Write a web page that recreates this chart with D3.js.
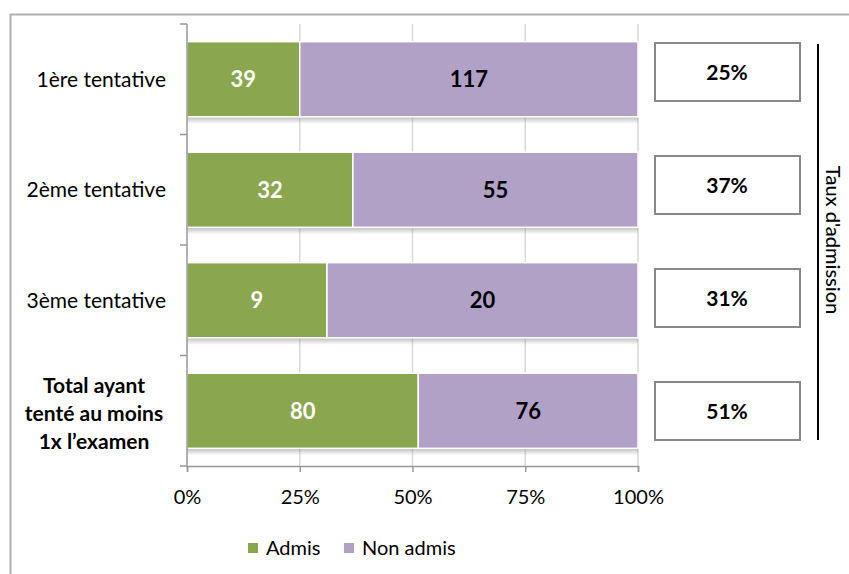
<!DOCTYPE html>
<html><head><meta charset="utf-8">
<script src="https://cdn.jsdelivr.net/npm/d3@7"></script>
<style>body{margin:0;background:#fff;} svg{display:block;font-family:Lato, "Open Sans", sans-serif;}</style>
</head><body><svg id="c" width="849" height="574"></svg>
<script>
const categories = ["1ère tentative", "2ème tentative", "3ème tentative", "Total ayant tenté au moins 1x l’examen"];
const categoryLines = [["1ère tentative"], ["2ème tentative"], ["3ème tentative"], ["Total ayant", "tenté au moins", "1x l’examen"]];
const admis = [39, 32, 9, 80];
const nonAdmis = [117, 55, 20, 76];
const tauxLabels = ["25%", "37%", "31%", "51%"];
const xTicks = [0, 0.25, 0.5, 0.75, 1];
const seriesNames = ["Admis", "Non admis"];
const colors = ["#8AA64F", "#B2A1C7"];

const svg = d3.select("#c");
// outer frame
svg.append("path").attr("d", "M10.5,574 V14.5 H849").attr("fill", "none").attr("stroke", "#b0b0b0").attr("stroke-width", 2);

const x = d3.scaleLinear().domain([0, 1]).range([187, 638]);
const y = d3.scaleBand().domain(categories).range([24, 466]).paddingInner(0.32).paddingOuter(0.16);
const yb = d3.scaleBand().domain(categories).range([24, 466]);

const defs = svg.append("defs");
const grad = defs.append("linearGradient").attr("id", "sh").attr("x1", 0).attr("x2", 0).attr("y1", 0).attr("y2", 1);
grad.append("stop").attr("offset", 0).attr("stop-color", "#888").attr("stop-opacity", 0.55);
grad.append("stop").attr("offset", 1).attr("stop-color", "#888").attr("stop-opacity", 0);

// gridlines
svg.append("g").selectAll("line").data(xTicks.slice(1)).join("line")
  .attr("x1", d => x(d)).attr("x2", d => x(d)).attr("y1", 24).attr("y2", 466)
  .attr("stroke", "#d9d9d9").attr("stroke-width", 1.5);

const data = categories.map((c, i) => {
  const t = admis[i] + nonAdmis[i];
  return {c, a: admis[i], n: nonAdmis[i], pa: admis[i] / t};
});

// shadows
svg.append("g").selectAll("rect").data(data).join("rect")
  .attr("x", x(0)).attr("width", x(1) - x(0))
  .attr("y", d => y(d.c) + y.bandwidth()).attr("height", 7)
  .attr("fill", "url(#sh)");

const g = svg.append("g");
g.selectAll("rect.a").data(data).join("rect").attr("class", "a")
  .attr("x", x(0)).attr("width", d => x(d.pa) - x(0))
  .attr("y", d => y(d.c)).attr("height", y.bandwidth())
  .attr("fill", colors[0]).attr("stroke", "#fff").attr("stroke-width", 1.5);
g.selectAll("rect.n").data(data).join("rect").attr("class", "n")
  .attr("x", d => x(d.pa)).attr("width", d => x(1) - x(d.pa))
  .attr("y", d => y(d.c)).attr("height", y.bandwidth())
  .attr("fill", colors[1]).attr("stroke", "#fff").attr("stroke-width", 1.5);

g.selectAll("text.a").data(data).join("text").attr("class", "a")
  .attr("x", d => (x(0) + x(d.pa)) / 2).attr("y", d => y(d.c) + y.bandwidth() / 2)
  .attr("dy", "0.36em").attr("text-anchor", "middle").attr("fill", "#fff")
  .attr("font-size", 22).attr("font-weight", "bold").text(d => d.a);
g.selectAll("text.n").data(data).join("text").attr("class", "n")
  .attr("x", d => (x(d.pa) + x(1)) / 2).attr("y", d => y(d.c) + y.bandwidth() / 2)
  .attr("dy", "0.36em").attr("text-anchor", "middle").attr("fill", "#000")
  .attr("font-size", 22).attr("font-weight", "bold").text(d => d.n);

// y axis
svg.append("line").attr("x1", 187).attr("x2", 187).attr("y1", 24).attr("y2", 466).attr("stroke", "#999").attr("stroke-width", 1.5);
svg.append("g").selectAll("line").data([24, ...categories.map(c => yb(c) + yb.bandwidth())]).join("line")
  .attr("x1", 180).attr("x2", 187).attr("y1", d => d).attr("y2", d => d).attr("stroke", "#999").attr("stroke-width", 1.5);

// x axis
const xa = svg.append("g").attr("transform", "translate(0,466)")
  .call(d3.axisBottom(x).tickValues(xTicks).tickFormat(d3.format(".0%")).tickSize(6).tickPadding(18));
xa.select(".domain").attr("stroke", "#999").attr("stroke-width", 1.5);
xa.selectAll(".tick line").attr("stroke", "#999").attr("stroke-width", 1.5);
xa.selectAll("text").attr("font-size", 20).attr("fill", "#000").attr("font-family", "Lato, sans-serif");

// category labels
const cl = svg.append("g").selectAll("text").data(data).join("text")
  .attr("text-anchor", "end")
  .attr("font-size", 21).attr("fill", "#000")
  .attr("font-weight", (d, i) => i === 3 ? "bold" : "normal")
  .attr("transform", d => `translate(166,${yb(d.c) + yb.bandwidth() / 2})`);
cl.each(function(d, i) {
  const lines = categoryLines[i];
  const t = d3.select(this);
  if (lines.length > 1) t.attr("text-anchor", "middle").attr("transform", `translate(94,${yb(d.c) + yb.bandwidth() / 2 + 3})`);
  lines.forEach((l, k) => {
    t.append("tspan").attr("x", 0).attr("y", (k - (lines.length - 1) / 2) * 28).attr("dy", "0.36em").text(l);
  });
});

// taux boxes
const yBox = d3.scalePoint().domain(categories).range([72, 411]);
const bx = svg.append("g");
bx.selectAll("rect").data(categories).join("rect")
  .attr("x", 655).attr("width", 145).attr("y", d => yBox(d) - 29).attr("height", 58)
  .attr("fill", "#fff").attr("stroke", "#888").attr("stroke-width", 2);
bx.selectAll("text").data(categories).join("text")
  .attr("x", 727).attr("y", d => yBox(d)).attr("dy", "0.36em").attr("text-anchor", "middle")
  .attr("font-size", 21).attr("font-weight", "bold").text((d, i) => tauxLabels[i]);

svg.append("line").attr("x1", 818).attr("x2", 818).attr("y1", 44).attr("y2", 440).attr("stroke", "#000").attr("stroke-width", 2);
svg.append("text").attr("transform", "translate(833,240) rotate(90)").attr("text-anchor", "middle")
  .attr("dy", "0.36em").attr("font-size", 20).attr("font-weight", 500).attr("fill", "#000").text("Taux d'admission");

// legend
const lg = svg.append("g").attr("transform", "translate(248,548)");
const lx = [0, 96];
seriesNames.forEach((s, i) => {
  lg.append("rect").attr("x", lx[i]).attr("y", -5).attr("width", 10).attr("height", 10).attr("fill", colors[i]);
  lg.append("text").attr("x", lx[i] + 18).attr("y", 0).attr("dy", "0.36em").attr("font-size", 20).text(s);
});
</script></body></html>
